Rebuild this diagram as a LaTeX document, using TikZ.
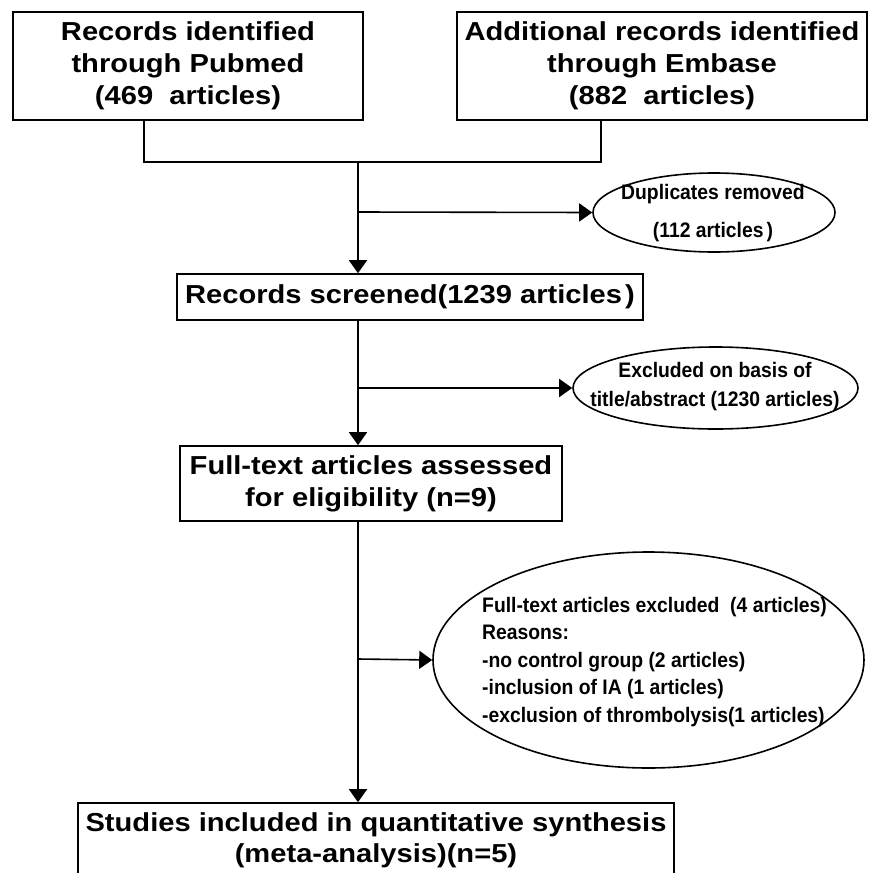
\documentclass[tikz,border=0pt]{standalone}
\usepackage{fontspec}
\setmainfont{Liberation Sans}
\newfontfamily\boxfont[FakeStretch=1.12]{Liberation Sans}
\newfontfamily\ellfont[FakeStretch=0.92]{Liberation Sans}
\usetikzlibrary{arrows.meta,shapes.geometric}
\begin{document}
\begin{tikzpicture}[x=1pt,y=-1pt,
  box/.style={draw=black, line width=1.6pt, rectangle, inner sep=0pt, align=center,
    font=\boxfont\bfseries\fontsize{26}{32}\selectfont},
  ell/.style={draw=black, line width=1.6pt, ellipse, inner sep=0pt},
  etext/.style={inner sep=0pt, font=\ellfont\bfseries\fontsize{21}{28}\selectfont},
  conn/.style={line width=1.6pt},
  arr/.style={line width=1.6pt, -{Triangle[width=18pt,length=13pt]}}]
\useasboundingbox (0,0) rectangle (869,873);
% boxes
\node[box, minimum width=350pt, minimum height=108pt] (b1) at (188,66)
  {Records identified\\through Pubmed\\(469\ \ articles)};
\node[box, minimum width=410pt, minimum height=108pt] (b2) at (662,66)
  {Additional records identified\\through Embase\\(882\ \ articles)};
\node[box, minimum width=466pt, minimum height=46pt] (b3) at (410,297)
  {Records screened(1239 articles\kern3pt)};
\node[box, minimum width=382pt, minimum height=75pt, font=\boxfont\bfseries\fontsize{26}{32}\selectfont] (b4) at (371,483.5)
  {Full-text articles assessed\\for eligibility (n=9)};
\node[box, minimum width=596pt, minimum height=74pt, font=\boxfont\bfseries\fontsize{26}{31}\selectfont] (b5) at (376,840)
  {Studies included in quantitative synthesis\\(meta-analysis)(n=5)};
% ellipses
\node[ell, minimum width=242pt, minimum height=79pt] (e1) at (714,212.5) {};
\node[etext, align=center, font=\ellfont\bfseries\fontsize{21}{38.5}\selectfont] (t1) at (713,213)
  {Duplicates removed\\(112 articles\kern3pt)};
\node[ell, minimum width=285pt, minimum height=82pt] (e2) at (715.5,388) {};
\node[etext, align=center, font=\ellfont\bfseries\fontsize{21}{29}\selectfont] (t2) at (715,387)
  {Excluded on basis of\\title/abstract (1230 articles)};
\node[ell, minimum width=431pt, minimum height=216pt] (e3) at (648.5,660) {};
\node[etext, align=left, anchor=west, font=\ellfont\bfseries\fontsize{21}{27.5}\selectfont] (t3) at (482,662)
  {Full-text articles excluded\ \ (4 articles)\\Reasons:\\-no control group (2 articles)\\-inclusion of IA (1 articles)\\-exclusion of thrombolysis(1 articles)};
% junction coordinates
\coordinate (c1) at (144,162);
\coordinate (c2) at (601,162);
\coordinate (j1) at (358,162);
\coordinate (j2) at (358,212);
\coordinate (j3) at (358,388);
\coordinate (j4) at (358,659);
% connectors
\draw[conn] (b1.south -| c1) -- (c1) -- (c2) -- (b2.south -| c2);
\draw[arr] (j1) -- (b3.north -| j1);
\draw[arr] (j2) -- (e1.west);
\draw[arr] (b3.south -| j1) -- (b4.north -| j1);
\draw[arr] (j3) -- (e2.west);
\draw[arr] (b4.south -| j1) -- (b5.north -| j1);
\draw[arr] (j4) -- (e3.west);
\end{tikzpicture}
\end{document}
